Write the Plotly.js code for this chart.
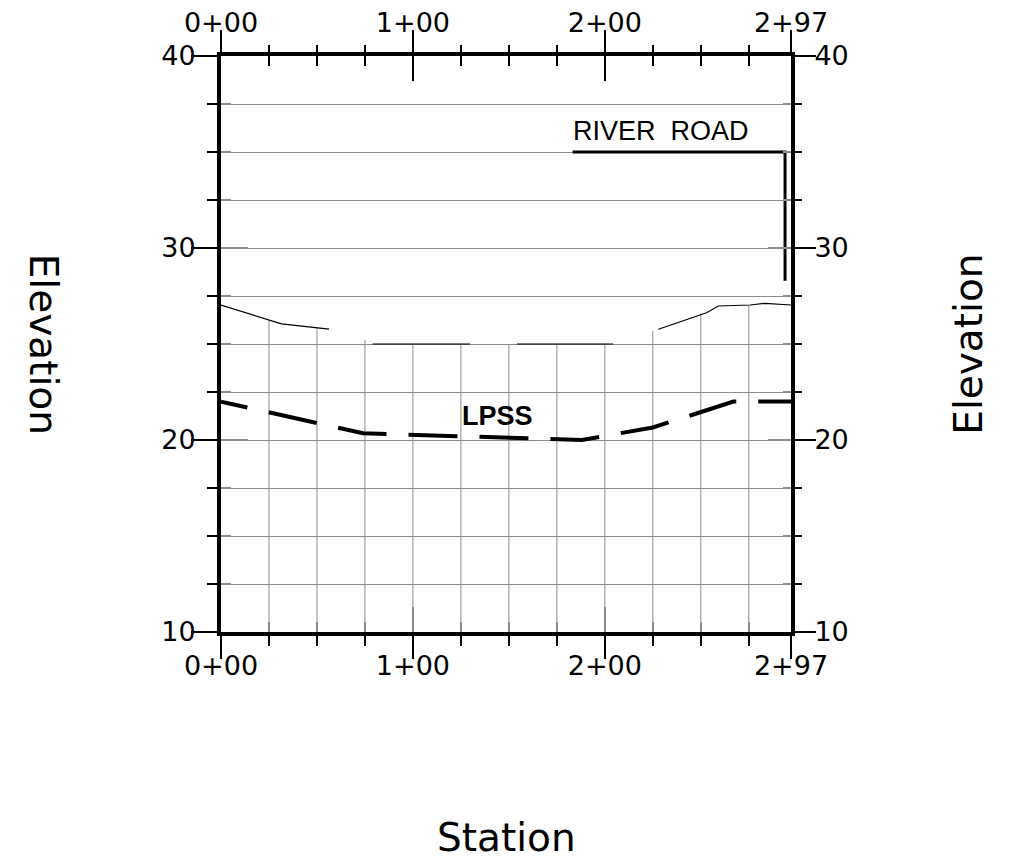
<!DOCTYPE html>
<html>
<head>
<meta charset="utf-8">
<script src="https://cdn.plot.ly/plotly-3.0.1.min.js"></script>
<style>html,body{margin:0;padding:0;background:#fff;}#chart{width:1017px;height:863px;}</style>
</head>
<body>
<div id="chart"></div>
<script>
// ---- data ----
const stationTicks = [0, 100, 200, 297];
const stationLabels = ['0+00', '1+00', '2+00', '2+97'];
const elevTicks = [10, 20, 30, 40];
const elevLabels = ['10', '20', '30', '40'];

// existing ground (thin line, with gaps)
const groundX = [0, 31.5, 56.3, null, 79, 129.7, null, 154.2, 204.3, null, 227.9, 250.5, 253, 259.1, 275.7, 283.5, 297];
const groundY = [27.03, 26.05, 25.77, null, 25, 25, null, 25, 25, null, 25.77, 26.56, 26.63, 26.98, 27.03, 27.12, 27.03];

// LPSS (dashed heavy line)
const lpssX = [0, 74, 188, 225, 267, 297];
const lpssY = [22.0, 20.35, 20.0, 20.65, 22.0, 22.0];

// River Road marker
const roadX = [183.2, 293.9, 293.9];
const roadY = [35, 35, 28.3];

// vertical grid lines: station and top elevation (they stop at the ground)
const gridSta = [25, 50, 75, 100, 125, 150, 175, 200, 225, 250, 275];
const gridTop = [26.25, 25.84, 25.2, 25, 25, 25, 25, 25, 25.68, 26.6, 27.03];

// ---- build ----
const vx = [], vy = [];
gridSta.forEach((s, i) => { vx.push(s, s, null); vy.push(10, gridTop[i], null); });

const GRID = '#8c8c8c';
const FONT = 'DejaVu Sans, Liberation Sans, sans-serif';
const LBL = 'Liberation Sans, DejaVu Sans, sans-serif';

const traces = [
  {x: vx, y: vy, mode: 'lines', line: {color: GRID, width: 1}, hoverinfo: 'skip', showlegend: false},
  {x: groundX, y: groundY, mode: 'lines', line: {color: '#000', width: 1.2}, connectgaps: false, showlegend: false},
  {x: lpssX, y: lpssY, mode: 'lines', line: {color: '#000', width: 4, dash: '27px,22px,49px,22px,49px,22px,49px,22px,49px,22px,49px,22px,49px,22px,49px,22px,49px,22px,49px,22px'}, showlegend: false},
  {x: roadX, y: roadY, mode: 'lines', line: {color: '#000', width: 3}, showlegend: false}
];

const xr = [0, 297], yr = [10, 40];
const tickFont = {family: FONT, size: 27, color: '#000'};

function xAx(extra) {
  return Object.assign({range: xr, fixedrange: true, showgrid: false, zeroline: false,
    tickmode: 'array', tickvals: stationTicks, ticktext: stationLabels, tickfont: tickFont,
    tickcolor: '#000', tickwidth: 1.5}, extra);
}
function yAx(extra) {
  return Object.assign({range: yr, fixedrange: true, zeroline: false,
    tickmode: 'array', tickvals: elevTicks, ticktext: elevLabels, tickfont: tickFont,
    tickcolor: '#000', tickwidth: 1.5}, extra);
}

const layout = {
  width: 1017, height: 863,
  margin: {l: 221, r: 226, t: 56, b: 231},
  paper_bgcolor: '#fff', plot_bgcolor: '#fff',
  showlegend: false,
  xaxis: xAx({side: 'bottom', ticks: 'outside', ticklen: 23, ticklabelstandoff: -16, showline: true, linewidth: 4, linecolor: '#000', mirror: true,
    minor: {tickmode: 'linear', tick0: 0, dtick: 25, ticks: 'outside', ticklen: 10, tickwidth: 1.5, tickcolor: '#000', showgrid: false}}),
  xaxis2: xAx({overlaying: 'x', side: 'top', anchor: 'y', ticks: 'outside', ticklen: 25, ticklabelstandoff: -13, showline: false,
    minor: {tickmode: 'linear', tick0: 0, dtick: 25, ticks: 'outside', ticklen: 10, tickwidth: 1.5, tickcolor: '#000', showgrid: false}}),
  xaxis3: xAx({overlaying: 'x', side: 'top', anchor: 'y', ticks: 'inside', ticklen: 25, showticklabels: false, showline: false,
    minor: {tickmode: 'linear', tick0: 0, dtick: 25, ticks: 'inside', ticklen: 10, tickwidth: 1.5, tickcolor: '#000', showgrid: false}}),
  xaxis4: xAx({overlaying: 'x', side: 'bottom', anchor: 'y', ticks: 'inside', ticklen: 25, showticklabels: false, showline: false, tickcolor: GRID, tickwidth: 2,
    minor: {tickmode: 'linear', tick0: 0, dtick: 25, ticks: 'inside', ticklen: 10, tickwidth: 2, tickcolor: GRID, showgrid: false}}),
  yaxis: yAx({side: 'left', ticks: 'outside', ticklen: 26, ticklabelstandoff: -10, showline: true, linewidth: 4, linecolor: '#000', mirror: true,
    showgrid: true, gridcolor: GRID, gridwidth: 1,
    minor: {tickmode: 'linear', tick0: 10, dtick: 2.5, ticks: 'outside', ticklen: 10, tickwidth: 1.5, tickcolor: '#000', showgrid: true, gridcolor: GRID, gridwidth: 1}}),
  yaxis2: yAx({overlaying: 'y', side: 'right', anchor: 'x', ticks: 'outside', ticklen: 24, ticklabelstandoff: -7, showline: false, showgrid: false,
    minor: {tickmode: 'linear', tick0: 10, dtick: 2.5, ticks: 'outside', ticklen: 10, tickwidth: 1.5, tickcolor: '#000', showgrid: false}}),
  yaxis3: yAx({overlaying: 'y', side: 'left', anchor: 'x', ticks: 'inside', ticklen: 27, showticklabels: false, showline: false, showgrid: false, tickcolor: GRID,
    minor: {tickmode: 'linear', tick0: 10, dtick: 2.5, ticks: 'inside', ticklen: 10, tickwidth: 1.5, tickcolor: GRID, showgrid: false}}),
  yaxis4: yAx({overlaying: 'y', side: 'right', anchor: 'x', ticks: 'inside', ticklen: 23, showticklabels: false, showline: false, showgrid: false, tickcolor: GRID,
    minor: {tickmode: 'linear', tick0: 10, dtick: 2.5, ticks: 'inside', ticklen: 8, tickwidth: 1.5, tickcolor: GRID, showgrid: false}}),
  annotations: [
    {text: 'Station', xref: 'paper', yref: 'paper', x: 0.5, y: -0.356, xanchor: 'center', yanchor: 'middle', showarrow: false,
      font: {family: FONT, size: 39, color: '#000'}},
    {text: 'Elevation', xref: 'paper', yref: 'paper', x: -0.31, y: 0.5, xanchor: 'center', yanchor: 'middle', textangle: 90, showarrow: false,
      font: {family: FONT, size: 39, color: '#000'}},
    {text: 'Elevation', xref: 'paper', yref: 'paper', x: 1.31, y: 0.5, xanchor: 'center', yanchor: 'middle', textangle: -90, showarrow: false,
      font: {family: FONT, size: 39, color: '#000'}},
    {text: '<b>LPSS</b>', xref: 'x', yref: 'y', x: 144, y: 21.25, xanchor: 'center', yanchor: 'middle', showarrow: false,
      font: {family: LBL, size: 27, color: '#000'}},
    {text: 'RIVER&nbsp;&nbsp;ROAD', xref: 'x', yref: 'y', x: 229.3, y: 36.1, xanchor: 'center', yanchor: 'middle', showarrow: false,
      font: {family: LBL, size: 27, color: '#000'}}
  ]
};

// helper traces so overlay axes get drawn
traces.push({x: [null], y: [null], xaxis: 'x2', yaxis: 'y', showlegend: false, hoverinfo: 'skip'});
traces.push({x: [null], y: [null], xaxis: 'x3', yaxis: 'y', showlegend: false, hoverinfo: 'skip'});
traces.push({x: [null], y: [null], xaxis: 'x4', yaxis: 'y', showlegend: false, hoverinfo: 'skip'});
traces.push({x: [null], y: [null], xaxis: 'x', yaxis: 'y2', showlegend: false, hoverinfo: 'skip'});
traces.push({x: [null], y: [null], xaxis: 'x', yaxis: 'y3', showlegend: false, hoverinfo: 'skip'});
traces.push({x: [null], y: [null], xaxis: 'x', yaxis: 'y4', showlegend: false, hoverinfo: 'skip'});

Plotly.newPlot('chart', traces, layout, {staticPlot: true, displayModeBar: false});
</script>
</body>
</html>
